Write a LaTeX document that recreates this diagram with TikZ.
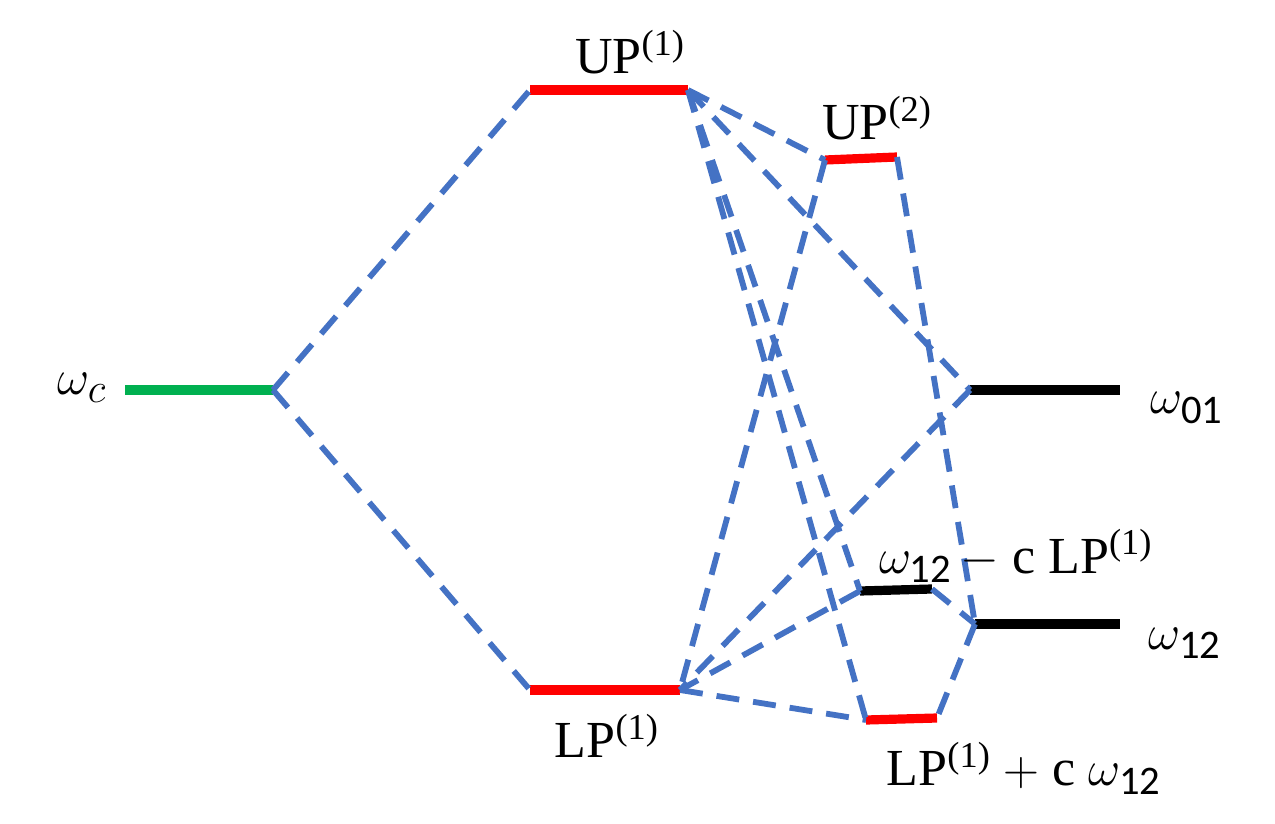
\documentclass[tikz,border=0pt]{standalone}
\usepackage{fontspec}
\setmainfont{Liberation Serif}
\newfontfamily\subfont{Carlito}
\newcommand{\sbs}[1]{\text{\subfont #1}}
\usepackage{amsmath}
\definecolor{dblue}{HTML}{4472C4}
\definecolor{lgreen}{HTML}{00B050}
\begin{document}
\begin{tikzpicture}[x=0.5pt,y=-0.5pt,
  level/.style={line width=4.6pt},
  conn/.style={dblue,line width=2.9pt,dash pattern=on 11.5pt off 7pt},
  lbl/.style={inner sep=0pt,font=\fontsize{26}{30}\selectfont},
  mth/.style={font=\fontsize{29}{30}\selectfont}]
\useasboundingbox (0,0) rectangle (1275,824);
% level end points
\coordinate (wcL) at (125,390); \coordinate (wcR) at (273,390);
\coordinate (u1L) at (530,90);  \coordinate (u1R) at (688,90);
\coordinate (l1L) at (530,690); \coordinate (l1R) at (680,690);
\coordinate (u2L) at (825,160); \coordinate (u2R) at (897,157);
\coordinate (w01L) at (970,390); \coordinate (w01R) at (1120,390);
\coordinate (wmL) at (860,591); \coordinate (wmR) at (932,589);
\coordinate (w12L) at (975,624); \coordinate (w12R) at (1120,624);
\coordinate (lpL) at (866,720); \coordinate (lpR) at (937,718);
% levels
\draw[level,lgreen] (wcL) -- (wcR);
\draw[level,red] (u1L) -- (u1R);
\draw[level,red] (l1L) -- (l1R);
\draw[level,red] (u2L) -- (u2R);
\draw[level,black] (w01L) -- (w01R);
\draw[level,black] (wmL) -- (wmR);
\draw[level,black] (w12L) -- (w12R);
\draw[level,red] (lpL) -- (lpR);
% connectors
\draw[conn] (wcR) -- (u1L);
\draw[conn] (wcR) -- (l1L);
\draw[conn] (u1R) -- (u2L);
\draw[conn] (u1R) -- (w01L);
\draw[conn] (u1R) -- (wmL);
\draw[conn] (u1R) -- (lpL);
\draw[conn] (u2L) -- (l1R);
\draw[conn] (u2R) -- (w12L);
\draw[conn] (w01L) -- (l1R);
\draw[conn] (wmL) -- (l1R);
\draw[conn] (l1R) -- (lpL);
\draw[conn] (wmR) -- (w12L);
\draw[conn] (w12L) -- (lpR);
% labels
\node[lbl,mth] (twc) at (82,388) {$\omega_c$};
\node[lbl] (tu1) at (630,52) {UP\textsuperscript{(1)}};
\node[lbl] (tu2) at (877,118) {UP\textsuperscript{(2)}};
\node[lbl] (tl1) at (607,736) {LP\textsuperscript{(1)}};
\node[lbl,mth] (tw01) at (1187,408) {$\omega_{\sbs{01}}$};
\node[lbl,mth] (tw12) at (1185,643) {$\omega_{\sbs{12}}$};
\node[lbl] (twm) at (1016,556) {{\fontsize{29}{30}\selectfont$\omega_{\sbs{12}}$}\,$-$ c LP\textsuperscript{(1)}};
\node[lbl] (tlp) at (1024,768) {LP\textsuperscript{(1)} $+$ c {\fontsize{29}{30}\selectfont$\omega_{\sbs{12}}$}};
\end{tikzpicture}
\end{document}
